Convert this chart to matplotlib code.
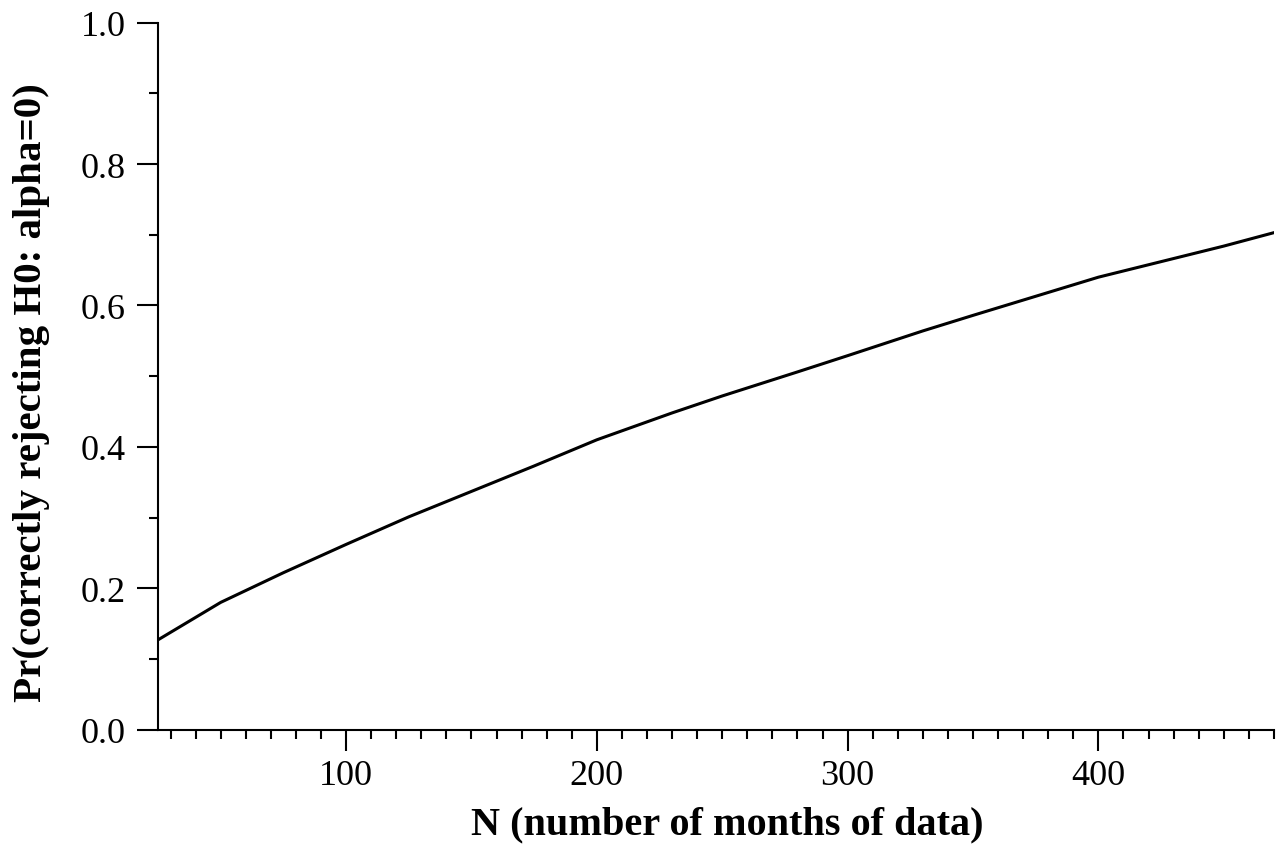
import matplotlib
matplotlib.use('Agg')
import matplotlib.pyplot as plt
from matplotlib.ticker import MultipleLocator, FormatStrFormatter

# power curve
n_months = [25, 50, 75, 100, 125, 150, 175, 200, 230, 250, 280, 300, 330, 350, 400, 450, 470]
pr_reject = [0.127, 0.180, 0.222, 0.262, 0.301, 0.337, 0.373, 0.410, 0.448, 0.472,
             0.506, 0.529, 0.564, 0.586, 0.640, 0.684, 0.703]

plt.rcParams['font.family'] = ['Liberation Serif', 'DejaVu Serif']

fig = plt.figure(figsize=(12.76, 8.45), dpi=100)
ax = fig.add_axes([0.1238, 0.1353, 0.8746, 0.8367])

ax.plot(n_months, pr_reject, color='black', linewidth=2.2)

ax.set_xlim(25, 470)
ax.set_ylim(0.0, 1.0)

ax.xaxis.set_major_locator(MultipleLocator(100))
ax.xaxis.set_minor_locator(MultipleLocator(10))
ax.yaxis.set_major_locator(MultipleLocator(0.2))
ax.yaxis.set_minor_locator(MultipleLocator(0.1))
ax.yaxis.set_major_formatter(FormatStrFormatter('%.1f'))

for side in ['top', 'right']:
    ax.spines[side].set_visible(False)
for side in ['left', 'bottom']:
    ax.spines[side].set_linewidth(1.5)

ax.tick_params(which='major', length=15, width=1.5, labelsize=26, direction='out')
ax.tick_params(which='minor', length=6.5, width=1.5, direction='out')
ax.tick_params(axis='y', which='major', pad=8)
ax.tick_params(axis='x', which='major', pad=6)

ax.set_xlabel('N (number of months of data)', fontsize=29, fontweight='bold',
              labelpad=10, x=0.51)
ax.set_ylabel('Pr(correctly rejecting H0: alpha=0)', fontsize=29.5, fontweight='bold',
              labelpad=22, y=0.478)

fig.savefig('out.png', dpi=100)
